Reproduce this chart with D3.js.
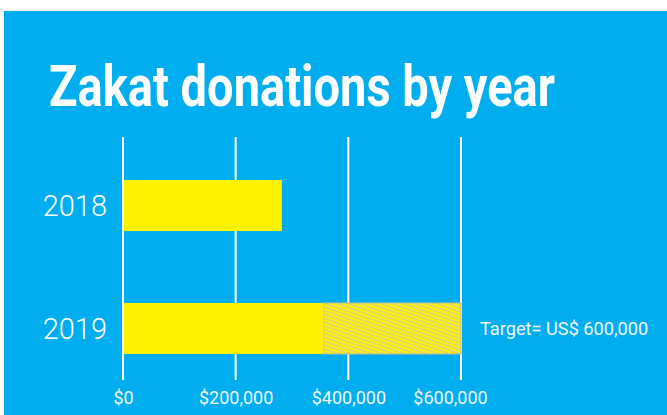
<!DOCTYPE html>
<html>
<head>
<meta charset="utf-8">
<script src="https://cdn.jsdelivr.net/npm/d3@7"></script>
<style>
  html, body { margin: 0; padding: 0; background: #fff; }
  svg { display: block; }
</style>
</head>
<body>
<div id="chart"></div>
<script>
// Chart data
const years = ['2018', '2019'];
const donations = [282000, 356000];
const target = 600000;
const targetYear = '2019';
const xTicks = [0, 200000, 400000, 600000];
const title = 'Zakat donations by year';
const targetLabel = 'Target= US$ 600,000';

const WIDTH = 667, HEIGHT = 415;
const BLUE = '#00aeef', YELLOW = '#fff200';

const svg = d3.select('#chart')
  .append('svg')
    .attr('width', WIDTH)
    .attr('height', HEIGHT);

// pattern for the part still missing to reach the target
const pat = svg.append('defs').append('pattern')
  .attr('id', 'hatch')
  .attr('patternUnits', 'userSpaceOnUse')
  .attr('width', 8)
  .attr('height', 3.6)
  .attr('patternTransform', 'rotate(19)');
pat.append('rect')
  .attr('width', 8).attr('height', 3.6)
  .attr('fill', YELLOW);
pat.append('line')
  .attr('x1', 0).attr('x2', 8)
  .attr('y1', 1).attr('y2', 1)
  .attr('stroke', '#c9c8a8')
  .attr('stroke-width', 1.1);

// blue panel
svg.append('rect')
  .attr('x', 4).attr('y', 11)
  .attr('width', WIDTH - 4).attr('height', HEIGHT - 11)
  .attr('fill', BLUE);

svg.append('text')
  .attr('x', 49).attr('y', 106)
  .attr('fill', '#fff')
  .attr('font-family', 'Roboto, sans-serif')
  .attr('font-weight', 700)
  .attr('font-size', 57)
  .attr('textLength', 506)
  .attr('lengthAdjust', 'spacingAndGlyphs')
  .text(title);

const x = d3.scaleLinear()
  .domain([0, 600000])
  .range([123, 461]);

const y = d3.scaleBand()
  .domain(years)
  .range([155.4, 378.6])
  .paddingInner(0.585)
  .paddingOuter(0.2);

// vertical grid lines
svg.append('g')
  .selectAll('line')
  .data(xTicks)
  .join('line')
    .attr('x1', d => x(d)).attr('x2', d => x(d))
    .attr('y1', 137).attr('y2', 380)
    .attr('stroke', '#fff')
    .attr('stroke-width', 2);

// x axis labels
const xAxis = svg.append('g')
  .attr('transform', 'translate(0,380)')
  .call(d3.axisBottom(x)
    .tickValues(xTicks)
    .tickSize(0)
    .tickPadding(11)
    .tickFormat(d => '$' + d3.format(',')(d)));
xAxis.select('.domain').remove();
xAxis.selectAll('text')
  .attr('fill', '#eef8fd')
  .attr('font-family', 'Roboto, sans-serif')
  .attr('font-weight', 400)
  .attr('font-size', 18);
// last label sits a little left of its line, as in the original
xAxis.selectAll('.tick').filter(d => d == 600000)
  .select('text').attr('dx', -11);

// year labels
const yAxis = svg.append('g')
  .attr('transform', 'translate(107,0)')
  .call(d3.axisLeft(y).tickSize(0).tickPadding(0));
yAxis.select('.domain').remove();
yAxis.selectAll('text')
  .attr('fill', '#fff')
  .attr('font-family', 'Roboto, sans-serif')
  .attr('font-weight', 300)
  .attr('font-size', 29)
  .attr('dy', '0.36em');

// target remainder
svg.append('rect')
  .attr('x', x(donations[years.indexOf(targetYear)]))
  .attr('y', y(targetYear))
  .attr('width', x(target) - x(donations[years.indexOf(targetYear)]))
  .attr('height', y.bandwidth())
  .attr('fill', 'url(#hatch)')
  .attr('stroke', '#b9b7a0')
  .attr('stroke-width', 1);

// donation bars
svg.append('g')
  .selectAll('rect')
  .data(years)
  .join('rect')
    .attr('x', x(0) + 1)
    .attr('y', d => y(d))
    .attr('width', (d, i) => x(donations[i]) - x(0) - 1)
    .attr('height', y.bandwidth())
    .attr('fill', YELLOW);

svg.append('text')
  .attr('x', 480)
  .attr('y', y(targetYear) + y.bandwidth() / 2)
  .attr('dy', '0.36em')
  .attr('fill', '#eef8fd')
  .attr('font-family', 'Roboto, sans-serif')
  .attr('font-weight', 400)
  .attr('font-size', 18.2)
  .text(targetLabel);
</script>
</body>
</html>
